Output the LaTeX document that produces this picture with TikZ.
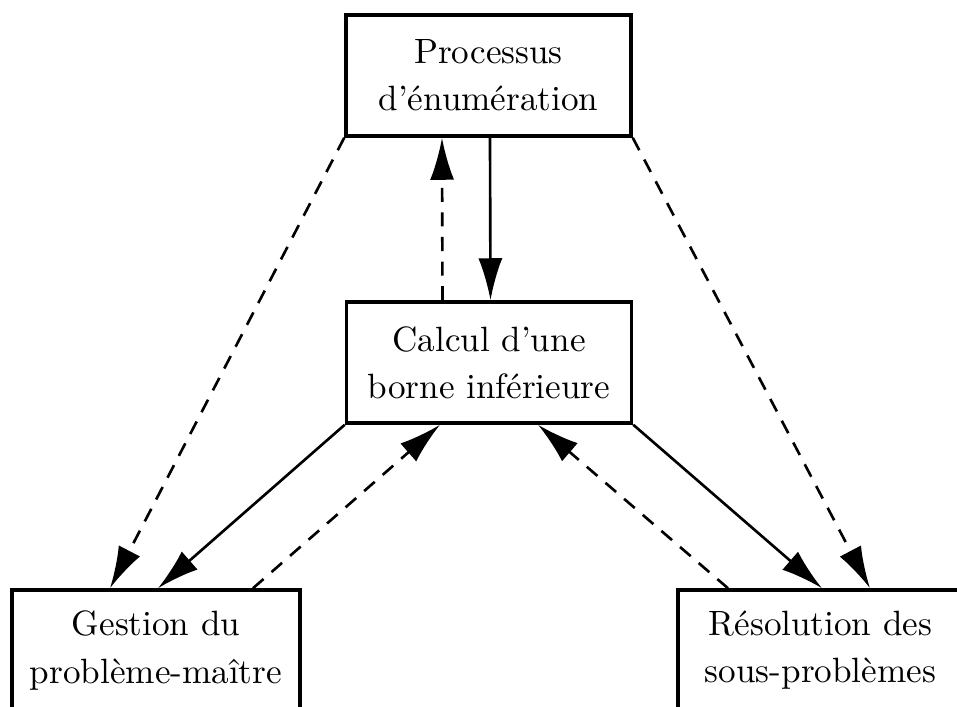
\documentclass[tikz,border=0pt]{standalone}
\usepackage{tikz}
\usetikzlibrary{calc,arrows.meta}

\begin{document}
\begin{tikzpicture}[
    box/.style={draw, line width=1pt, minimum width=2.85cm, minimum height=1.21cm,
        align=center, inner sep=0pt, font={\fontsize{10}{13.4}\selectfont}},
    flow/.style={line width=0.75pt, -{Latex[length=4.2mm,width=2.4mm]}},
    back/.style={flow, dash pattern=on 4pt off 3pt}
]
    \useasboundingbox (0,0) rectangle (9.57,7.06);

    % The four blocks
    \node[box] (proc) at (4.885,6.305) {Processus\\d'énumération};
    \node[box] (borne) at (4.89,3.435) {Calcul d'une\\borne inférieure};
    \node[box, minimum width=2.88cm] (gestion) at (1.56,0.555) {Gestion du\\problème-maître};
    \node[box] (resol) at (8.205,0.555) {Résolution des\\sous-problèmes};

    % Between enumeration and the bound
    \draw[flow] ($(proc.south)+(0.015,0)$) -- ($(borne.north)+(0.015,0)$);
    \draw[back] ($(borne.north)+(-0.465,0)$) -- ($(proc.south)+(-0.465,0)$);

    % Left side
    \draw[back] (proc.south west) -- ($(gestion.north)+(-0.46,0)$);
    \draw[flow] (borne.south west) -- ($(gestion.north)+(0.02,0)$);
    \draw[back] ($(gestion.north)+(0.97,0)$) -- ($(borne.south)+(-0.49,0)$);

    % Right side
    \draw[back] ($(resol.north)+(-0.925,0)$) -- ($(borne.south)+(0.49,0)$);
    \draw[flow] (borne.south east) -- ($(resol.north)+(0.015,0)$);
    \draw[back] (proc.south east) -- ($(resol.north)+(0.495,0)$);
\end{tikzpicture}
\end{document}
